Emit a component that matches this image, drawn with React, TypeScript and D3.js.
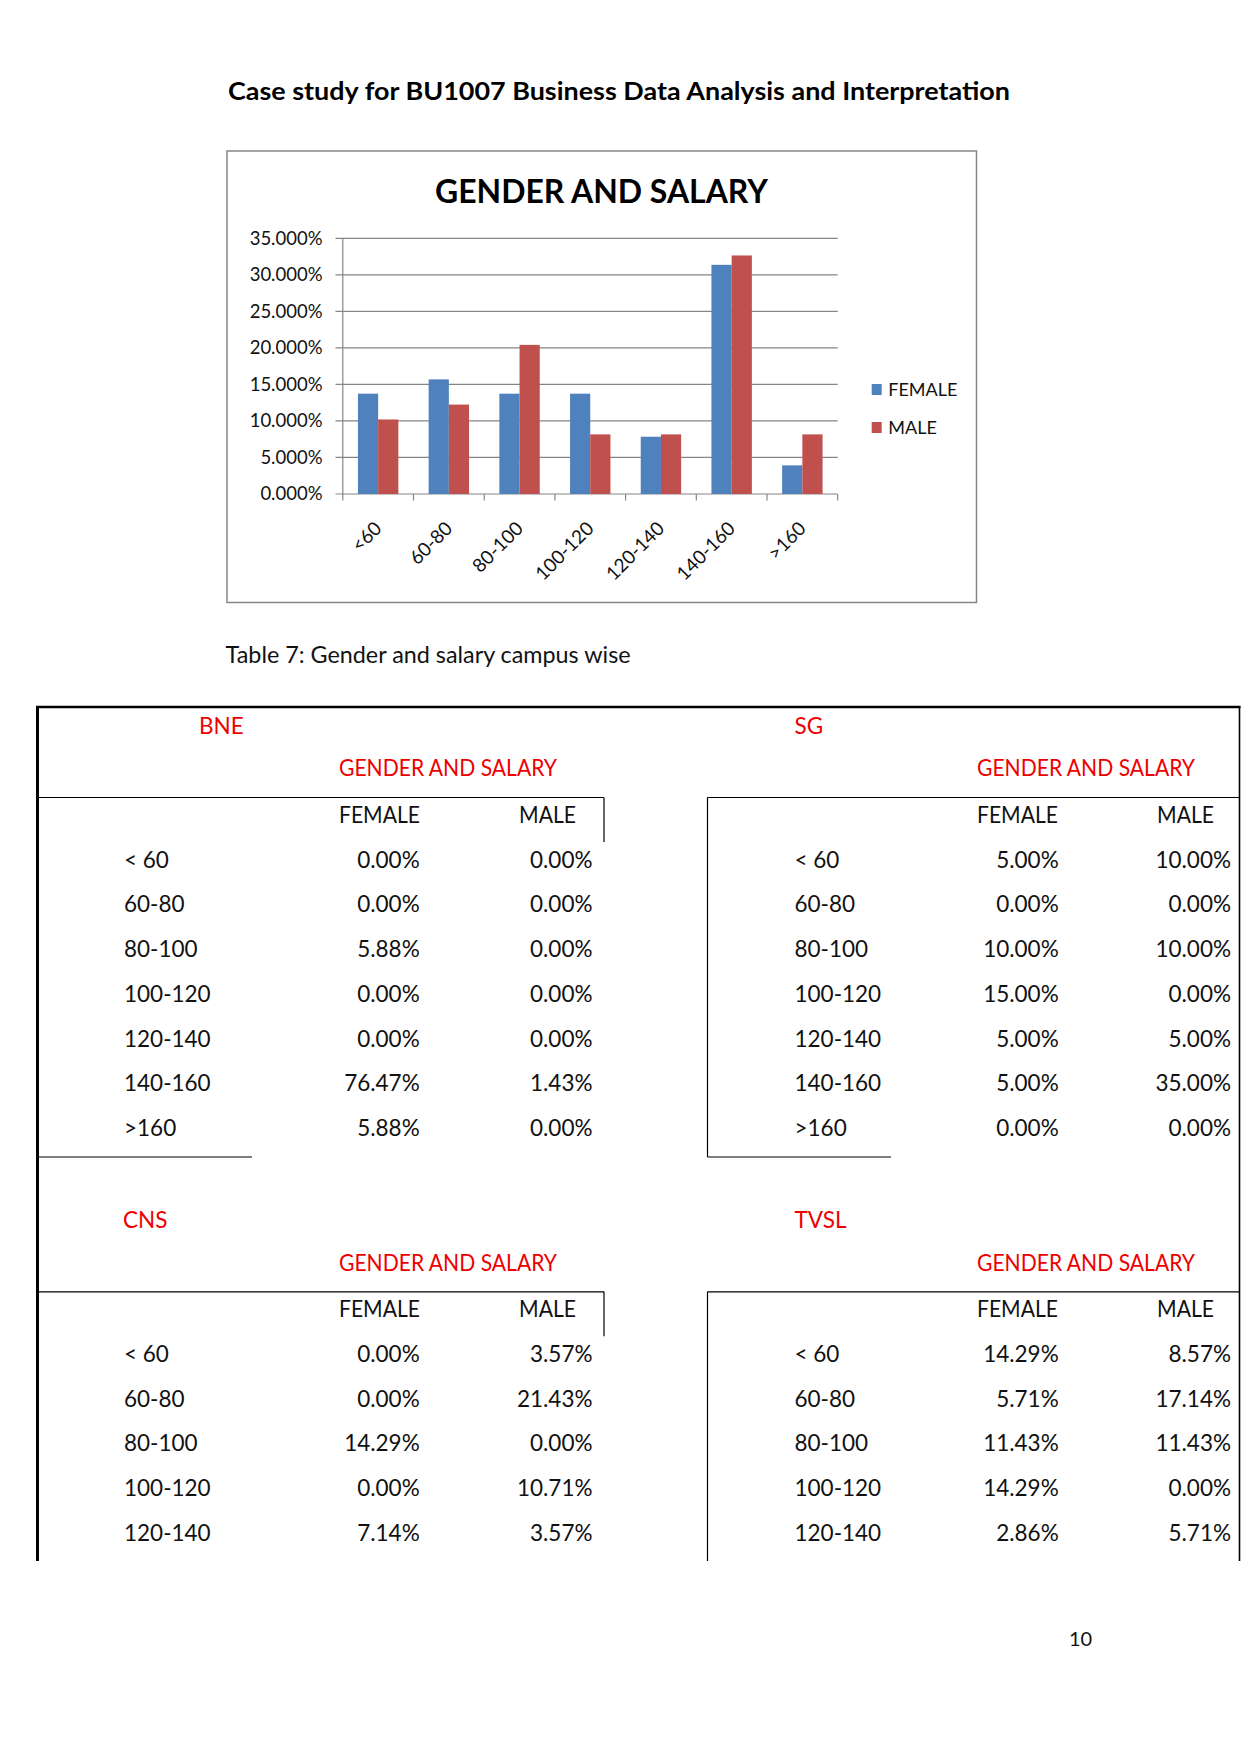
import React from "react";
import * as d3 from "d3";

// ---------- Chart data ----------
const categories = ["<60", "60-80", "80-100", "100-120", "120-140", "140-160", ">160"];
const femalePct = [13.73, 15.69, 13.73, 13.73, 7.84, 31.37, 3.92];
const malePct = [10.2, 12.24, 20.41, 8.16, 8.16, 32.65, 8.16];
const yTicks = [0, 5, 10, 15, 20, 25, 30, 35];
const seriesNames = ["FEMALE", "MALE"];

// ---------- Table data ----------
const salaryBands = ["< 60", "60-80", "80-100", "100-120", "120-140", "140-160", ">160"];
const bneFemale = [0, 0, 5.88, 0, 0, 76.47, 5.88];
const bneMale = [0, 0, 0, 0, 0, 1.43, 0];
const sgFemale = [5, 0, 10, 15, 5, 5, 0];
const sgMale = [10, 0, 10, 0, 5, 35, 0];
const cnsFemale = [0, 0, 14.29, 0, 7.14];
const cnsMale = [3.57, 21.43, 0, 10.71, 3.57];
const tvslFemale = [14.29, 5.71, 11.43, 14.29, 2.86];
const tvslMale = [8.57, 17.14, 11.43, 0, 5.71];

const BLUE = "#4F81BD";
const RED = "#C0504D";
const TXTRED = "#EE0000";
const GRID = "#868686";
const FONT = "Lato, 'Open Sans', sans-serif";

function Chart() {
  const x = d3.scaleBand<string>().domain(categories).range([342.8, 837.7]);
  const y = d3.scaleLinear().domain([0, 35]).range([494, 238.3]);
  const bw = x.bandwidth() / 3.5;
  const fmt = (v: number) => v.toFixed(3) + "%";
  const colors = [BLUE, RED];
  const series = [femalePct, malePct];
  return (
    <g>
      <rect x={227} y={151} width={749.5} height={451.5} fill="#fff" stroke={GRID} strokeWidth={1.5} />
      <text x={601.5} y={203} textAnchor="middle" fontFamily={FONT} fontWeight={700} fontSize={33} textLength={333} lengthAdjust="spacingAndGlyphs">GENDER AND SALARY</text>
      {yTicks.map((t) => (
        <g key={t}>
          <line x1={335.5} x2={837.7} y1={y(t)} y2={y(t)} stroke={GRID} strokeWidth={1.2} />
          <text x={322.5} y={y(t)} dy="0.35em" textAnchor="end" fontFamily={FONT} fontSize={18.5} fill="#111">{fmt(t)}</text>
        </g>
      ))}
      <line x1={342.8} x2={342.8} y1={238.3} y2={494} stroke={GRID} strokeWidth={1.2} />
      {[...categories.map((c) => x(c)!), 837.7].map((px, i) => (
        <line key={i} x1={px} x2={px} y1={494} y2={500.5} stroke={GRID} strokeWidth={1.2} />
      ))}
      {categories.map((c, i) => (
        <g key={c}>
          {series.map((s, k) => (
            <rect key={k} x={x(c)! + 0.75 * bw + k * bw} y={y(s[i])} width={bw} height={y(0) - y(s[i])} fill={colors[k]} />
          ))}
        </g>
      ))}
      {categories.map((c) => {
        const cx = x(c)! + x.bandwidth() / 2;
        return (
          <text key={c} transform={`translate(${cx},525) rotate(-45)`} textAnchor="end" dy="0.35em" fontFamily={FONT} fontSize={19} fill="#111">{c}</text>
        );
      })}
      {seriesNames.map((n, k) => (
        <g key={n}>
          <rect x={871.7} y={384 + k * 38} width={10} height={11} fill={colors[k]} />
          <text x={888.3} y={396 + k * 38} fontFamily={FONT} fontSize={18} fill="#111">{n}</text>
        </g>
      ))}
    </g>
  );
}

type Section = {
  name: string;
  female: number[];
  male: number[];
  left: boolean;
  top: number;
};

const ROWSTEP = 44.75;

function TableSection({ s }: { s: Section }) {
  const bands = salaryBands.slice(0, s.female.length);
  const ry = d3.scalePoint<string>().domain(salaryBands).range([0, ROWSTEP * 6]);
  const labelX = s.left ? 124 : 794.5;
  const nameX = s.left ? (s.name === "BNE" ? 199 : 123) : 794.5;
  const headX = s.left ? 339 : 977;
  const maleX = s.left ? 519 : 1157;
  const femR = s.left ? 419.7 : 1058.7;
  const maleR = s.left ? 592.5 : 1231;
  const fmt = (v: number) => v.toFixed(2) + "%";
  const T = s.top;
  return (
    <g fontFamily={FONT} fontSize={22.5}>
      <text x={nameX} y={T + 733.6} fill={TXTRED}>{s.name}</text>
      <text x={headX} y={T + 776.4} fill={TXTRED} textLength={218} lengthAdjust="spacingAndGlyphs">GENDER AND SALARY</text>
      <text x={headX} y={T + 823} fill="#111" textLength={81} lengthAdjust="spacingAndGlyphs">FEMALE</text>
      <text x={maleX} y={T + 823} fill="#111" textLength={57} lengthAdjust="spacingAndGlyphs">MALE</text>
      {bands.map((b, i) => (
        <g key={b}>
          <text x={labelX} y={T + 867.5 + ry(b)!} fill="#111">{b}</text>
          <text x={femR} y={T + 867.5 + ry(b)!} textAnchor="end" fill="#111">{fmt(s.female[i])}</text>
          <text x={maleR} y={T + 867.5 + ry(b)!} textAnchor="end" fill="#111">{fmt(s.male[i])}</text>
        </g>
      ))}
    </g>
  );
}

export default function App() {
  const sections: Section[] = [
    { name: "BNE", female: bneFemale, male: bneMale, left: true, top: 0 },
    { name: "SG", female: sgFemale, male: sgMale, left: false, top: 0 },
    { name: "CNS", female: cnsFemale, male: cnsMale, left: true, top: 494.3 },
    { name: "TVSL", female: tvslFemale, male: tvslMale, left: false, top: 494.3 },
  ];
  const D = 494.3;
  return (
    <svg width={1241} height={1754} style={{ position: "absolute", left: 0, top: 0, background: "#fff" }}>
      <rect x={0} y={0} width={1241} height={1754} fill="#fff" />
      <text x={619} y={100} textAnchor="middle" fontFamily={FONT} fontWeight={700} fontSize={24} textLength={782} lengthAdjust="spacingAndGlyphs" fill="#000">
        Case study for BU1007 Business Data Analysis and Interpretation
      </text>
      <Chart />
      <text x={225.6} y={663} fontFamily={FONT} fontSize={22.5} fill="#111" textLength={405} lengthAdjust="spacingAndGlyphs">Table 7: Gender and salary campus wise</text>

      <g stroke="#000" fill="none">
        <line x1={36} x2={1240.5} y1={707} y2={707} strokeWidth={2.6} />
        <line x1={37.5} x2={37.5} y1={706} y2={1561} strokeWidth={3} />
        <line x1={1239.5} x2={1239.5} y1={706} y2={1561} strokeWidth={1.6} />
        <line x1={38.5} x2={604} y1={797.5} y2={797.5} strokeWidth={1.2} />
        <line x1={604} x2={604} y1={797.5} y2={842} strokeWidth={1.2} />
        <line x1={38.5} x2={252} y1={1157} y2={1157} strokeWidth={1.2} />
        <line x1={707.5} x2={1239} y1={797.5} y2={797.5} strokeWidth={1.2} />
        <line x1={707.5} x2={707.5} y1={797.5} y2={1157} strokeWidth={1.2} />
        <line x1={707.5} x2={891} y1={1157} y2={1157} strokeWidth={1.2} />
        <line x1={38.5} x2={604} y1={797.5 + D} y2={797.5 + D} strokeWidth={1.2} />
        <line x1={604} x2={604} y1={797.5 + D} y2={842 + D} strokeWidth={1.2} />
        <line x1={707.5} x2={1239} y1={797.5 + D} y2={797.5 + D} strokeWidth={1.2} />
        <line x1={707.5} x2={707.5} y1={797.5 + D} y2={1561} strokeWidth={1.2} />
      </g>
      {sections.map((s) => (
        <TableSection key={s.name} s={s} />
      ))}
      <text x={1069} y={1646} fontFamily={FONT} fontSize={20} fill="#111">10</text>
    </svg>
  );
}
